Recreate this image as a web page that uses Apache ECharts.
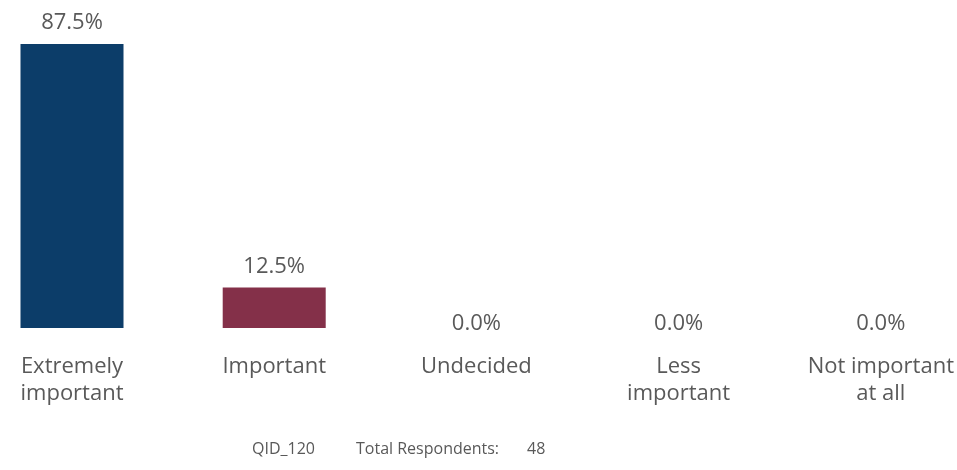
<!DOCTYPE html>
<html>
<head>
<meta charset="utf-8">
<script src="https://cdn.jsdelivr.net/npm/echarts@6/dist/echarts.min.js"></script>
<style>html,body{margin:0;padding:0;background:#fff}#c{width:957px;height:470px}</style>
</head>
<body>
<div id="c"></div>
<script>
const categories = ["Extremely\nimportant", "Important", "Undecided", "Less\nimportant", "Not important\nat all"];
const values = [87.5, 12.5, 0.0, 0.0, 0.0];
const questionId = "QID_120";
const respondentsLabel = "Total Respondents:";
const respondents = 48;

const palette = ["#0C3D69", "#843049", "#A5A5A5", "#A5A5A5", "#A5A5A5"];
const textColor = "#595959";
const font = "'Open Sans', sans-serif";

const chart = echarts.init(document.getElementById('c'), null, {renderer: 'canvas'});
chart.setOption({
  animation: false,
  grid: {left: 72, right: 76, top: 44, bottom: 142, containLabel: false},
  xAxis: {
    type: 'category',
    data: categories,
    boundaryGap: false,
    axisLine: {show: false},
    axisTick: {show: false},
    axisLabel: {color: textColor, fontFamily: font, fontSize: 22, lineHeight: 27, margin: 25, interval: 0}
  },
  yAxis: {type: 'value', min: 0, max: 87.5, show: false, splitLine: {show: false}},
  series: [{
    type: 'bar',
    barWidth: 103,
    data: values.map(v => ({value: v, label: v === 0 ? {offset: [0, 17]} : {}})),
    itemStyle: {color: p => palette[p.dataIndex]},
    label: {
      show: true, position: 'top', distance: 10,
      color: textColor, fontFamily: font, fontSize: 22,
      formatter: p => p.value.toFixed(1) + '%'
    }
  }],
  graphic: [
    {type: 'text', left: 252, top: 441, style: {text: questionId, fill: textColor, font: "16px 'Open Sans', sans-serif"}},
    {type: 'text', left: 356, top: 441, style: {text: respondentsLabel, fill: textColor, font: "16px 'Open Sans', sans-serif"}},
    {type: 'text', left: 527, top: 441, style: {text: String(respondents), fill: textColor, font: "16px 'Open Sans', sans-serif"}}
  ]
});
</script>
</body>
</html>
